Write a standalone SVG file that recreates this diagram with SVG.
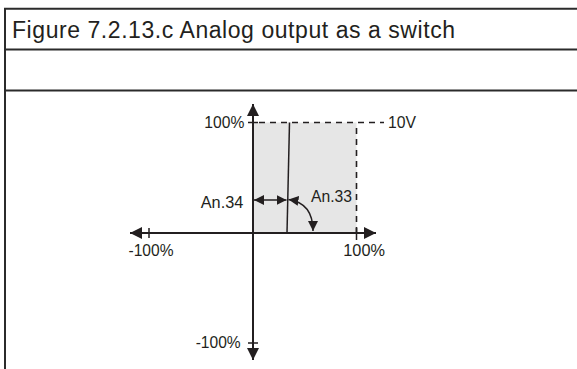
<svg xmlns="http://www.w3.org/2000/svg" width="577" height="369" viewBox="0 0 577 369">
<defs>
<style>
.frame{stroke:#2b2b2b;stroke-width:2;fill:none}
.ax{stroke:#231f20;stroke-width:2;fill:none}
.thin{stroke:#231f20;stroke-width:1.5;fill:none}
.dash{stroke:#231f20;stroke-width:1.6;fill:none;stroke-dasharray:6 5}
.lbl{font-family:"Liberation Sans",Arial,sans-serif;font-size:16px;fill:#231f20}
.title{font-family:"Liberation Sans",Arial,sans-serif;font-size:23px;fill:#231f20}
</style>
<marker id="ah" viewBox="0 0 10 10" refX="10" refY="5" markerWidth="10" markerHeight="10" markerUnits="userSpaceOnUse" orient="auto-start-reverse">
<path d="M0,0 L10,5 L0,10 Z" fill="#231f20"/>
</marker>
<marker id="ahb" viewBox="0 0 10 10" refX="10" refY="5" markerWidth="13" markerHeight="12" markerUnits="userSpaceOnUse" orient="auto-start-reverse">
<path d="M0,0 L10,5 L0,10 Z" fill="#231f20"/>
</marker>
</defs>
<rect width="577" height="369" fill="#fff"/>
<g id="frame">
<path class="frame" d="M5,369 V8.7 H577 M5,49.5 H577 M5,90.5 H577"/>
<text class="title" x="12" y="37.5" textLength="443" lengthAdjust="spacing">Figure 7.2.13.c Analog output as a switch</text>
</g>
<g id="region">
<rect x="253" y="122.5" width="103.5" height="110.5" fill="#e6e6e6"/>
</g>
<g id="connectors">
<line class="ax" x1="253" y1="360" x2="253" y2="104" marker-start="url(#ahb)" marker-end="url(#ahb)"/>
<line class="ax" x1="130" y1="233" x2="376" y2="233" marker-start="url(#ahb)" marker-end="url(#ahb)"/>
<path class="thin" d="M248,122.5 H258 M248,343 H258 M149,228 V238 M356.5,228 V240"/>
<path class="dash" d="M259,122.5 H384"/>
<path class="dash" d="M356.5,128 V232"/>
<line class="thin" x1="289.5" y1="122.5" x2="287" y2="233"/>
<line class="thin" x1="254" y1="200" x2="286.5" y2="200" marker-start="url(#ah)" marker-end="url(#ah)"/>
<path class="thin" d="M288.5,199.5 Q313,203 313,231" marker-start="url(#ah)" marker-end="url(#ah)"/>
</g>
<g id="labels">
<text class="lbl" x="204.3" y="128" textLength="40" lengthAdjust="spacingAndGlyphs">100%</text>
<text class="lbl" x="388" y="128" textLength="28" lengthAdjust="spacingAndGlyphs">10V</text>
<text class="lbl" x="200.7" y="207.5" textLength="42.6" lengthAdjust="spacingAndGlyphs">An.34</text>
<text class="lbl" x="311" y="202" textLength="41" lengthAdjust="spacingAndGlyphs">An.33</text>
<text class="lbl" x="128.5" y="255.5" textLength="45" lengthAdjust="spacingAndGlyphs">-100%</text>
<text class="lbl" x="343.3" y="255.5" textLength="41.7" lengthAdjust="spacingAndGlyphs">100%</text>
<text class="lbl" x="195.7" y="348" textLength="45" lengthAdjust="spacingAndGlyphs">-100%</text>
</g>
</svg>
